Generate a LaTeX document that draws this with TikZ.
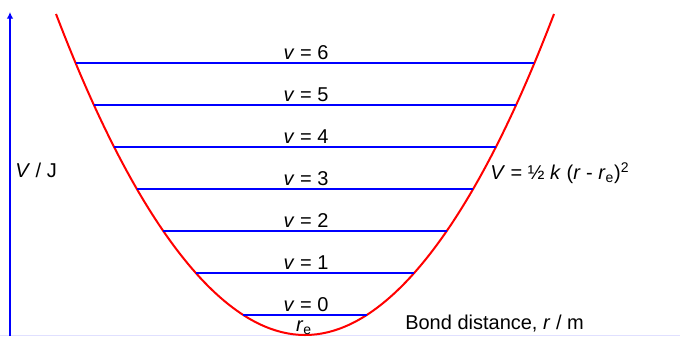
\documentclass[tikz,border=0pt]{standalone}
\usepackage{fontspec}
\setmainfont{Liberation Sans}
\usetikzlibrary{arrows.meta}
\tikzset{
  levelline/.style={blue, line width=1.6pt},
  wellcurve/.style={red, line width=1.5pt},
  axisline/.style={blue, line width=1.3pt, -{Latex[length=5pt,width=5pt]}},
  lbl/.style={font=\fontsize{15}{18}\selectfont, inner sep=0pt}
}
\begin{document}
\begin{tikzpicture}[x=0.75pt, y=-0.75pt]
  \useasboundingbox (0,0) rectangle (680,336);
  \draw[blue!12, line width=0.75pt] (0,335) -- (680,335);

  \coordinate (base) at (10,336);
  \coordinate (top) at (10,12);
  \draw[axisline] (base) -- (top);

  \coordinate (wellL) at (56,14);
  \coordinate (wellB) at (305,335);
  \coordinate (wellR) at (554,14);
  \draw[wellcurve] (wellL) parabola bend (wellB) (wellR);

  \draw[levelline] (243,315) -- (367,315);
  \draw[levelline] (196,273) -- (414,273);
  \draw[levelline] (163,231) -- (447,231);
  \draw[levelline] (137,189) -- (473,189);
  \draw[levelline] (114,147) -- (496,147);
  \draw[levelline] (94,105) -- (516,105);
  \draw[levelline] (76,63) -- (534,63);

  \node[lbl] (v0) at (306,304.5) {\textit{v} = 0};
  \node[lbl] (v1) at (306,263) {\textit{v} = 1};
  \node[lbl] (v2) at (306,221) {\textit{v} = 2};
  \node[lbl] (v3) at (306,179) {\textit{v} = 3};
  \node[lbl] (v4) at (306,137) {\textit{v} = 4};
  \node[lbl] (v5) at (306,95) {\textit{v} = 5};
  \node[lbl] (v6) at (306,53) {\textit{v} = 6};

  \node[lbl] (req) at (304,327.5) {\textit{r}\textsubscript{e}};
  \node[lbl, anchor=west] (vaxis) at (15,170) {\textit{V} / J};
  \node[lbl, anchor=west] (formula) at (490,173) {\textit{V} = ½ \textit{k} (\textit{r} - \textit{r}\textsubscript{e})\textsuperscript{2}};
  \node[lbl, anchor=west] (raxis) at (405,324) {Bond distance, \textit{r} / m};
\end{tikzpicture}
\end{document}
